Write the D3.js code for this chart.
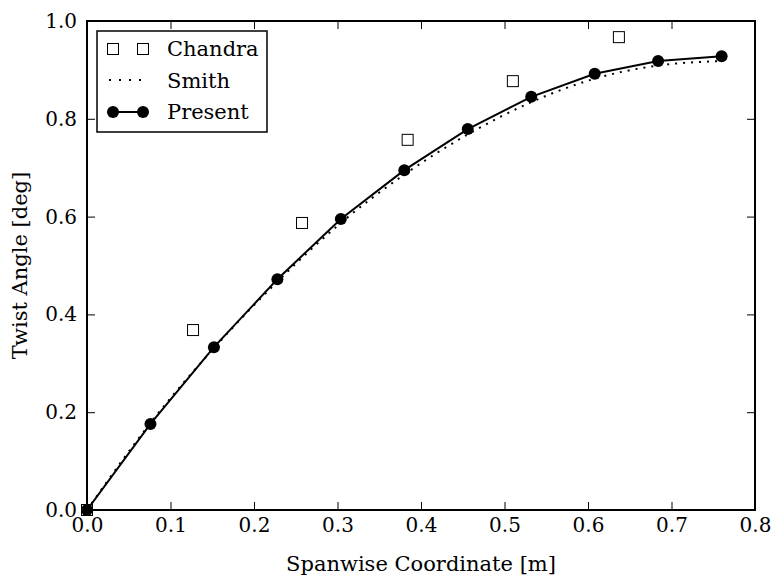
<!DOCTYPE html>
<html>
<head>
<meta charset="utf-8">
<script src="https://cdn.jsdelivr.net/npm/d3@7"></script>
<style>
  body { margin: 0; background: #fff; }
  svg text { font-family: "DejaVu Serif", serif; fill: #000; }
</style>
</head>
<body>
<div id="chart"></div>
<script>
// Data
var present_x = [0, 0.076, 0.152, 0.228, 0.304, 0.38, 0.456, 0.532, 0.608, 0.684, 0.76];
var present_y = [0, 0.176, 0.333, 0.472, 0.595, 0.695, 0.779, 0.845, 0.892, 0.918, 0.928];

var smith_x = [0, 0.076, 0.152, 0.228, 0.304, 0.38, 0.456, 0.532, 0.608, 0.684, 0.76];
var smith_y = [0, 0.178, 0.331, 0.467, 0.587, 0.686, 0.768, 0.834, 0.882, 0.909, 0.918];

var chandra_x = [0, 0.127, 0.2575, 0.384, 0.51, 0.637];
var chandra_y = [0, 0.368, 0.587, 0.757, 0.877, 0.967];

var x_ticks = [0, 0.1, 0.2, 0.3, 0.4, 0.5, 0.6, 0.7, 0.8];
var y_ticks = [0, 0.2, 0.4, 0.6, 0.8, 1.0];

var width = 773, height = 578;
var plot_left = 87, plot_right = 755, plot_top = 21, plot_bottom = 510;

var svg = d3.select('#chart').append('svg')
    .attr('width', width).attr('height', height);

var x = d3.scaleLinear().domain([0, 0.8]).range([plot_left, plot_right]);
var y = d3.scaleLinear().domain([0, 1]).range([plot_bottom, plot_top]);

// Ticks point inwards on all four sides
var tick_len = 8;
svg.append('g').attr('transform', 'translate(0,' + plot_bottom + ')')
    .call(d3.axisBottom(x).tickValues(x_ticks).tickSizeInner(-tick_len).tickSizeOuter(0)
        .tickPadding(8).tickFormat(d3.format('.1f')));
svg.append('g').attr('transform', 'translate(0,' + plot_top + ')')
    .call(d3.axisTop(x).tickValues(x_ticks).tickSizeInner(-tick_len).tickSizeOuter(0).tickFormat(''));
svg.append('g').attr('transform', 'translate(' + plot_left + ',0)')
    .call(d3.axisLeft(y).tickValues(y_ticks).tickSizeInner(-tick_len).tickSizeOuter(0)
        .tickPadding(10).tickFormat(d3.format('.1f')));
svg.append('g').attr('transform', 'translate(' + plot_right + ',0)')
    .call(d3.axisRight(y).tickValues(y_ticks).tickSizeInner(-tick_len).tickSizeOuter(0).tickFormat(''));

svg.selectAll('.domain').remove();
svg.selectAll('.tick line').attr('stroke', '#000').attr('stroke-width', 1);
svg.selectAll('.tick text').style('font-size', '20px').style('font-family', '"DejaVu Serif", serif');

// Frame
svg.append('rect')
    .attr('x', plot_left).attr('y', plot_top)
    .attr('width', plot_right - plot_left).attr('height', plot_bottom - plot_top)
    .attr('fill', 'none').attr('stroke', '#000').attr('stroke-width', 2);

// Smith (dotted)
var smith = smith_x.map(function(d, i) { return [d, smith_y[i]]; });
svg.append('path')
    .datum(smith)
    .attr('d', d3.line().x(function(d) { return x(d[0]); }).y(function(d) { return y(d[1]); })
        .curve(d3.curveMonotoneX))
    .attr('fill', 'none').attr('stroke', '#000').attr('stroke-width', 2)
    .attr('stroke-dasharray', '2,6');

// Present (solid with circles)
var present = present_x.map(function(d, i) { return [d, present_y[i]]; });
svg.append('path')
    .datum(present)
    .attr('d', d3.line().x(function(d) { return x(d[0]); }).y(function(d) { return y(d[1]); }))
    .attr('fill', 'none').attr('stroke', '#000').attr('stroke-width', 2);
svg.selectAll('.present').data(present).enter().append('circle')
    .attr('cx', function(d) { return x(d[0]); })
    .attr('cy', function(d) { return y(d[1]); })
    .attr('r', 6).attr('fill', '#000');

// Chandra (open squares)
var chandra = chandra_x.map(function(d, i) { return [d, chandra_y[i]]; });
svg.selectAll('.chandra').data(chandra).enter().append('rect')
    .attr('x', function(d) { return x(d[0]) - 5.5; })
    .attr('y', function(d) { return y(d[1]) - 5.5; })
    .attr('width', 11).attr('height', 11)
    .attr('fill', 'none').attr('stroke', '#000').attr('stroke-width', 1);

// Axis labels
svg.append('text')
    .attr('x', (plot_left + plot_right) / 2).attr('y', 571)
    .attr('text-anchor', 'middle').style('font-size', '21px')
    .text('Spanwise Coordinate [m]');
svg.append('text')
    .attr('transform', 'translate(27,' + ((plot_top + plot_bottom) / 2) + ') rotate(-90)')
    .attr('text-anchor', 'middle').style('font-size', '21px')
    .text('Twist Angle [deg]');

// Legend
var legend = svg.append('g');
legend.append('rect')
    .attr('x', 97).attr('y', 31).attr('width', 170).attr('height', 101)
    .attr('fill', '#fff').attr('stroke', '#000').attr('stroke-width', 1.5);

var lx1 = 113, lx2 = 143, tx = 167;
legend.selectAll('.lsq').data([lx1, lx2]).enter().append('rect')
    .attr('x', function(d) { return d - 5.5; }).attr('y', 49 - 5.5)
    .attr('width', 11).attr('height', 11)
    .attr('fill', 'none').attr('stroke', '#000');
legend.append('line')
    .attr('x1', lx1 - 4).attr('x2', lx2 + 4).attr('y1', 80).attr('y2', 80)
    .attr('stroke', '#000').attr('stroke-width', 2).attr('stroke-dasharray', '2,8');
legend.append('line')
    .attr('x1', lx1).attr('x2', lx2).attr('y1', 112).attr('y2', 112)
    .attr('stroke', '#000').attr('stroke-width', 2);
legend.selectAll('.lc').data([lx1, lx2]).enter().append('circle')
    .attr('cx', function(d) { return d; }).attr('cy', 112).attr('r', 6).attr('fill', '#000');

var names = ['Chandra', 'Smith', 'Present'];
legend.selectAll('.lt').data(names).enter().append('text')
    .attr('x', tx).attr('y', function(d, i) { return 49 + i * 31.5; })
    .attr('dy', '0.35em').style('font-size', '21px')
    .text(function(d) { return d; });
</script>
</body>
</html>
